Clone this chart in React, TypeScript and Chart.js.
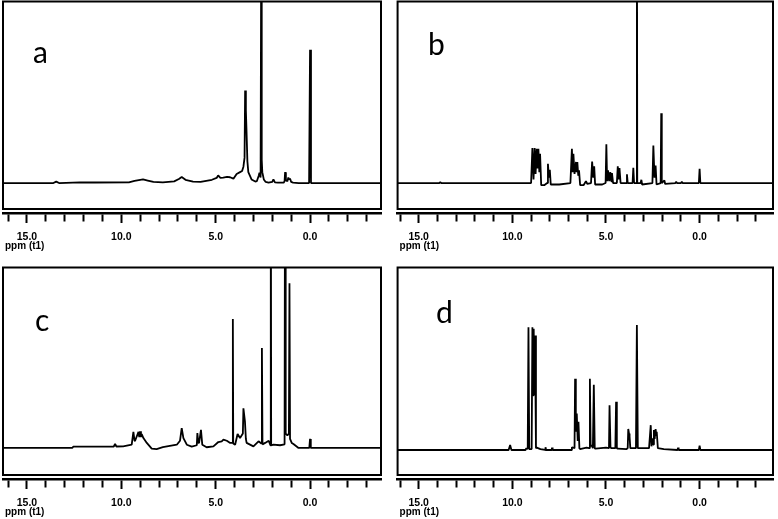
import React, { useEffect, useRef } from "react";
import { Chart, registerables } from "chart.js";
Chart.register(...registerables);

// Tick labels shown on the ppm axis (every integer gets a tick mark)
const labeledTicks = [15, 10, 5, 0];
const axisTitle = "ppm (t1)";

// Panel a
const aPpm = [16.3, 13.6, 13.45, 13.3, 12.2, 11.4, 9.6, 9.3, 9.0, 8.85, 8.6, 8.3, 7.8, 7.2, 6.95, 6.8, 6.6, 6.2, 5.8, 5.5, 5.2, 4.95, 4.87, 4.75, 4.6, 4.4, 4.24, 4.06, 3.89, 3.71, 3.6, 3.53, 3.47, 3.44, 3.4, 3.37, 3.32, 3.27, 3.1, 2.9, 2.82, 2.72, 2.68, 2.62, 2.58, 2.56, 2.53, 2.45, 2.35, 2.2, 2.0, 1.94, 1.86, 1.7, 1.4, 1.35, 1.32, 1.28, 1.2, 1.15, 1.1, 1.06, 1.0, 0.9, 0.6, 0.05, 0.0, -0.05, -3.8];
const aInt = [0, 0, 0.8, 0, 0.4, 0.3, 0.4, 1.2, 1.8, 2.0, 1.4, 0.6, 0.4, 0.9, 2.2, 3.3, 1.8, 0.8, 0.6, 1.2, 1.8, 2.8, 4.2, 2.8, 3.0, 3.4, 3.2, 2.4, 5.0, 6.0, 6.6, 9.0, 14, 51, 40, 30, 12, 6, 2.0, 0.8, 1.0, 4.0, 5.7, 3.0, 160, 12.8, 6.0, 2.0, 0.6, 0.2, 0.6, 2.0, 0.4, 0.2, 0.2, 1.0, 6.0, 1.5, 1.0, 3.0, 2.0, 2.5, 0.6, 0.2, 0, 0, 73.4, 0, 0];

// Panel b
const bPpm = [16.2, 13.9, 13.85, 13.8, 9.0, 8.93, 8.87, 8.81, 8.76, 8.7, 8.65, 8.61, 8.56, 8.52, 8.46, 8.3, 8.14, 8.1, 8.05, 8.0, 7.95, 7.5, 6.9, 6.82, 6.78, 6.74, 6.68, 6.6, 6.56, 6.53, 6.48, 6.44, 6.38, 6.2, 6.07, 6.0, 5.8, 5.74, 5.68, 5.63, 5.58, 5.2, 5.02, 4.98, 4.94, 4.89, 4.83, 4.77, 4.72, 4.68, 4.62, 4.42, 4.37, 4.32, 4.28, 4.22, 3.92, 3.88, 3.84, 3.58, 3.54, 3.5, 3.37, 3.35, 3.33, 3.15, 3.11, 3.07, 2.52, 2.47, 2.41, 2.35, 2.3, 2.08, 2.05, 2.02, 1.88, 1.84, 1.3, 1.25, 1.2, 1.0, 0.95, 0.9, 0.04, 0.0, -0.04, -3.9];
const bInt = [0, 0, 0.4, 0, 0, 19.3, 2, 19.3, 5, 18.9, 8, 18.9, 6, 16.1, -1.2, -1.2, 0, 10.6, 3, 7.3, -0.8, -0.8, 0, 18.9, 6, 16.1, 5, 11.6, 6, 11.6, 4, 7, -1.2, -1.2, 1, -0.5, 0, 11.9, 3, 9.2, -0.8, -0.8, 0, 21.3, 1, 7, 1, 6, 1, 5.5, 0, 0, 9.2, 2, 8.3, 0, 0, 4.8, 0, 0, 8.4, 0, 0, 200, 0, 0, 1.8, -0.8, 0, 20.7, 3, 9.7, -0.8, 0, 38.5, 0, 1.5, -0.5, 0, 0.6, 0, 0, 0.6, 0, 0, 7.9, 0, 0];

// Panel c
const cPpm = [16.3, 12.6, 12.55, 10.4, 10.33, 10.26, 9.9, 9.45, 9.36, 9.3, 9.27, 9.09, 9.05, 9.01, 8.96, 8.92, 8.83, 8.65, 8.39, 8.13, 7.8, 7.06, 6.89, 6.8, 6.71, 6.53, 6.27, 6.0, 5.97, 5.92, 5.88, 5.78, 5.71, 5.48, 5.12, 4.86, 4.68, 4.59, 4.41, 4.23, 4.11, 4.09, 4.07, 3.97, 3.84, 3.71, 3.56, 3.53, 3.45, 3.4, 3.36, 3.0, 2.73, 2.58, 2.55, 2.52, 2.38, 2.19, 2.1, 2.08, 2.06, 1.94, 1.59, 1.35, 1.32, 1.29, 1.2, 1.12, 1.09, 1.06, 0.97, 0.88, 0.61, 0.04, 0.0, -0.04, -3.8];
const cInt = [0, 0, 0.7, 0.8, 2.2, 0.8, 0.9, 1.8, 8.9, 4, 4, 8.9, 6, 9.2, 6, 7.7, 5.5, 2.8, -0.4, -0.6, 0.4, 1.8, 4, 11, 5.5, 1.8, 0.7, 1.5, 8.3, 2.8, 2.8, 10, 1.8, 0.4, 0.9, 3.3, 3.7, 4.6, 4, 2.8, 2.8, 71.4, 2.5, 1.8, 7.7, 5.5, 8, 22, 14.8, 5, 2.8, 0.9, 3.7, 2.5, 55.4, 2, 2.8, 4, 1.5, 200, 1.5, 1.8, 1.5, 2, 200, 8, 7, 8, 91.3, 5, 2.8, 2.2, 0, 0, 5, 0, 0];

// Panel d
const dPpm = [16.2, 10.2, 10.12, 10.05, 9.3, 9.25, 9.18, 9.14, 9.1, 8.97, 8.93, 8.89, 8.86, 8.82, 8.79, 8.74, 8.7, 8.5, 8.25, 8.23, 8.2, 7.9, 7.88, 7.85, 6.85, 6.82, 6.68, 6.65, 6.61, 6.56, 6.51, 6.47, 6.42, 6.39, 6.04, 5.9, 5.86, 5.82, 5.77, 5.7, 5.65, 5.6, 5.56, 5.0, 4.84, 4.81, 4.76, 4.72, 4.5, 4.46, 4.42, 4.37, 3.9, 3.84, 3.81, 3.77, 3.74, 3.7, 3.4, 3.35, 3.3, 3.05, 2.7, 2.61, 2.57, 2.52, 2.48, 2.44, 2.4, 2.35, 2.31, 2.29, 2.23, 1.91, 1.18, 1.15, 1.12, 0.04, 0.0, -0.04, -3.9];
const dInt = [0, 0, 2.7, 0, 0, 1, 0.5, 67.3, 0.5, 0.5, 67.3, 30, 66.4, 30, 62.7, 1, 1.3, 0.5, 0, 1.5, 0, 0, 1.3, 0, 0, 1.5, 1, 39, 10, 20, 5, 15.5, 1, 0.5, 1.3, 1, 39, 2, 2.7, 1, 35.8, 1, 0.7, 1.3, 1, 24.5, 1.5, 1, 1, 26.4, 1, 0.7, 0.5, 1, 11.5, 9, 7.3, 1, 1, 68.5, 1, 1, 1, 13.6, 2, 6.4, 3, 10.9, 6, 11.5, 8, 10, 1, 0.5, 0, 1.3, 0, 0, 2.4, 0, 0];

const narrowFamily = '"Liberation Sans Narrow", "Liberation Sans", Arial, sans-serif';
const tickFont = { family: narrowFamily, size: 10.5, weight: "bold" as const };

type PanelProps = {
  left: number;
  top: number;
  ppm: number[];
  inten: number[];
  letter: string;
  letterX: number;
  letterY: number;
  xMin: number;
  xMax: number;
  yMin: number;
};

function Panel({ left, top, ppm, inten, letter, letterX, letterY, xMin, xMax, yMin }: PanelProps) {
  const ref = useRef<HTMLCanvasElement>(null);
  useEffect(() => {
    const canvas = ref.current;
    if (!canvas) return;
    const frame = {
      id: "frame",
      afterDraw(chart: any) {
        const { ctx, chartArea: ca } = chart;
        ctx.save();
        ctx.strokeStyle = "#000";
        ctx.lineWidth = 2;
        ctx.strokeRect(ca.left, ca.top, ca.right - ca.left, ca.bottom - 4 - ca.top);
        ctx.fillStyle = "#000";
        ctx.font = '30px Lato, "Open Sans", sans-serif';
        ctx.textBaseline = "alphabetic";
        ctx.textAlign = "left";
        ctx.fillText(letter, letterX, letterY);
        ctx.font = "bold 10px " + narrowFamily;
        ctx.textBaseline = "middle";
        ctx.fillText(axisTitle, ca.left + 2, ca.bottom + 33);
        ctx.restore();
      },
    };
    const chart = new Chart(canvas, {
      type: "line",
      data: {
        datasets: [
          {
            data: ppm.map((p, i) => ({ x: p, y: inten[i] })),
            borderColor: "#000",
            borderWidth: 1.8,
            pointRadius: 0,
            tension: 0,
            fill: false,
            borderJoinStyle: "bevel",
          },
        ],
      },
      options: {
        animation: false,
        responsive: false,
        devicePixelRatio: 1,
        events: [],
        layout: { padding: { left: 3, right: 9, top: 1.5, bottom: 0 } },
        plugins: { legend: { display: false }, tooltip: { enabled: false } },
        scales: {
          x: {
            type: "linear",
            reverse: true,
            min: xMin,
            max: xMax,
            afterFit: (s: any) => {
              s.height = 39;
            },
            grid: {
              drawOnChartArea: false,
              drawTicks: true,
              tickLength: 10,
              tickColor: "#000",
              tickWidth: 2,
              tickBorderDash: (c: any) =>
                c.tick && labeledTicks.includes(Math.round(c.tick.value)) ? [] : [7, 30],
            },
            border: { display: true, color: "#000", width: 2.5 },
            ticks: {
              stepSize: 1,
              autoSkip: false,
              maxRotation: 0,
              includeBounds: false,
              padding: 8,
              color: "#000",
              font: tickFont,
              callback: (v: any) => {
                const n = Math.round(Number(v));
                return labeledTicks.includes(n) ? n.toFixed(1) : "";
              },
            },
            title: { display: false },
          },
          y: { display: false, min: yMin, max: 100 },
        },
      },
      plugins: [frame],
    } as any);
    return () => chart.destroy();
  }, []);
  return (
    <canvas
      ref={ref}
      width={390}
      height={252}
      style={{ position: "absolute", left, top, width: 390, height: 252 }}
    />
  );
}

export default function App() {
  return (
    <div
      style={{
        position: "fixed",
        left: 0,
        top: 0,
        width: 778,
        height: 519,
        background: "#fff",
        overflow: "hidden",
      }}
    >
      <Panel left={0} top={0} ppm={aPpm} inten={aInt} letter="a" letterX={33} letterY={63} xMin={-3.76} xMax={16.27} yMin={-16.5} />
      <Panel left={392} top={0} ppm={bPpm} inten={bInt} letter="b" letterX={36} letterY={55} xMin={-3.92} xMax={16.13} yMin={-16.5} />
      <Panel left={0} top={266} ppm={cPpm} inten={cInt} letter="c" letterX={35} letterY={65} xMin={-3.76} xMax={16.27} yMin={-17.2} />
      <Panel left={392} top={266} ppm={dPpm} inten={dInt} letter="d" letterX={44} letterY={57} xMin={-3.92} xMax={16.13} yMin={-15.9} />
    </div>
  );
}
